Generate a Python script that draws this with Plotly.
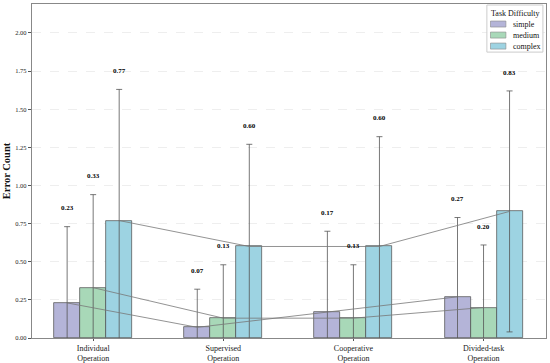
import plotly.graph_objects as go

categories = ["Individual<br>Operation", "Supervised<br>Operation", "Cooperative<br>Operation", "Divided-task<br>Operation"]
series_names = ["simple", "medium", "complex"]
simple_vals = [0.23, 0.07, 0.17, 0.27]
medium_vals = [0.33, 0.13, 0.13, 0.20]
complex_vals = [0.77, 0.60, 0.60, 0.83]
simple_sd = [0.50, 0.25, 0.53, 0.52]
medium_sd = [0.61, 0.35, 0.35, 0.41]
complex_sd = [0.86, 0.67, 0.72, 0.79]
y_ticks = [0.0, 0.25, 0.5, 0.75, 1.0, 1.25, 1.5, 1.75, 2.0]
legend_title = "Task Difficulty"

colors = ["#b4b4d8", "#a8d8b8", "#9dd3e2"]
offsets = [-0.2, 0.0, 0.2]
bar_w = 0.2
font_family = "Liberation Serif, Times New Roman, serif"

fig = go.Figure()
all_vals = [simple_vals, medium_vals, complex_vals]
all_sd = [simple_sd, medium_sd, complex_sd]

for name, vals, sd, col, off in zip(series_names, all_vals, all_sd, colors, offsets):
    xs = [i + off for i in range(len(categories))]
    fig.add_trace(go.Bar(
        x=xs, y=vals, width=bar_w, name=name, showlegend=False,
        marker=dict(color=col, line=dict(color="#4a4a4a", width=0.7)),
        error_y=dict(type="data", array=sd, visible=True, color="#555555", thickness=0.8, width=3),
    ))

for name, vals, off in zip(series_names, all_vals, offsets):
    xs = [i + off for i in range(len(categories))]
    fig.add_trace(go.Scatter(
        x=xs, y=vals, mode="lines", line=dict(color="#777777", width=0.8),
        showlegend=False, hoverinfo="skip",
    ))

for vals, sd, off in zip(all_vals, all_sd, offsets):
    for i, (v, s) in enumerate(zip(vals, sd)):
        fig.add_annotation(
            x=i + off, y=v + s + 0.12, text="<b>%.2f</b>" % v, showarrow=False,
            font=dict(family=font_family, size=7, color="#000000"),
            xanchor="center", yanchor="middle",
        )

# compact legend box (layout in paper coordinates of the plot area)
lx0, lx1, ly0, ly1 = 0.885, 0.994, 0.856, 0.997
fig.add_shape(type="rect", xref="paper", yref="paper", x0=lx0, x1=lx1, y0=ly0, y1=ly1,
              line=dict(color="#cccccc", width=1), fillcolor="rgba(255,255,255,0.9)", layer="above")
fig.add_annotation(xref="paper", yref="paper", x=(lx0 + lx1) / 2, y=0.973, text=legend_title,
                   showarrow=False, xanchor="center", yanchor="middle",
                   font=dict(family=font_family, size=8, color="#111111"))
item_y = [0.940, 0.907, 0.874]
for name, col, yy in zip(series_names, colors, item_y):
    fig.add_shape(type="rect", xref="paper", yref="paper", x0=0.892, x1=0.922, y0=yy - 0.009, y1=yy + 0.009,
                  line=dict(color="#888888", width=0.6), fillcolor=col, layer="above")
    fig.add_annotation(xref="paper", yref="paper", x=0.932, y=yy, text=name, showarrow=False,
                       xanchor="left", yanchor="middle",
                       font=dict(family=font_family, size=8, color="#111111"))

fig.update_layout(
    width=550, height=363,
    margin=dict(l=32, r=4, t=4, b=25),
    paper_bgcolor="white", plot_bgcolor="white",
    font=dict(family=font_family, color="#222222"),
    barmode="overlay",
    bargap=0,
    showlegend=False,
)

fig.update_xaxes(
    range=[-0.47, 3.48], automargin=False,
    tickmode="array", tickvals=list(range(len(categories))), ticktext=categories,
    tickfont=dict(size=8, family=font_family, color="#222222"),
    showgrid=False, zeroline=False,
    showline=True, linecolor="#888888", linewidth=1.2, mirror=True,
    ticks="outside", ticklen=2, tickcolor="#555555",
)
fig.update_yaxes(
    range=[0, 2.19], automargin=False,
    tickmode="array", tickvals=y_ticks, ticktext=["%.2f" % t for t in y_ticks],
    tickfont=dict(size=6.5, family=font_family, color="#222222"),
    title=dict(text="<b>Error Count</b>", font=dict(size=10.5, family=font_family, color="#111111"), standoff=2),
    showgrid=True, gridcolor="#eeeeee", griddash="dash", gridwidth=0.6,
    zeroline=False,
    showline=True, linecolor="#888888", linewidth=1.2, mirror=True,
    ticks="outside", ticklen=3, tickcolor="#555555",
)

fig.write_html("out.html", config={"displayModeBar": False},
               post_script="document.body.style.margin='0';document.body.style.overflow='hidden';")
